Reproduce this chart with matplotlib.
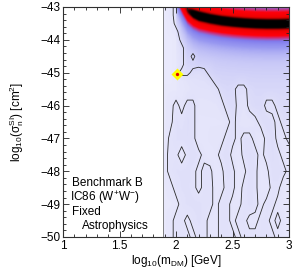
import numpy as np
import matplotlib
matplotlib.use("Agg")
import matplotlib.pyplot as plt
from matplotlib.colors import LinearSegmentedColormap
from matplotlib.ticker import MultipleLocator

plt.rcParams['font.family'] = ['Liberation Sans', 'DejaVu Sans']
plt.rcParams['mathtext.fontset'] = 'custom'
plt.rcParams['mathtext.rm'] = 'Liberation Sans'
plt.rcParams['mathtext.it'] = 'Liberation Sans:italic'
plt.rcParams['mathtext.bf'] = 'Liberation Sans:bold'

# ---------------- data ----------------
mass_min = 1.885
mass_grid = [1.90, 1.95, 2.00, 2.05, 2.10, 2.15, 2.20, 2.25, 2.30, 2.35, 2.40, 2.45,
             2.50, 2.55, 2.60, 2.65, 2.70, 2.75, 2.80, 2.85, 2.90, 2.95, 3.00]
sigma_grid = [-43.0, -43.25, -43.5, -43.75, -44.0, -44.25, -44.5, -44.75, -45.0, -45.25,
              -45.5, -46.0, -46.5, -47.0, -47.5, -48.0, -48.5, -49.0, -49.5, -50.0]
# profile likelihood level (0-9 scale), rows follow sigma_grid (top to bottom)
like_codes = [
    [2, 4, 6, 7, 7, 7, 7, 7, 7, 7, 7, 7, 7, 7, 7, 7, 7, 7, 7, 7, 7, 7, 7],
    [2, 4, 6, 7, 7, 7, 7, 7, 7, 7, 7, 7, 7, 7, 7, 7, 7, 7, 7, 7, 7, 7, 7],
    [2, 3, 6, 7, 7, 7, 7, 7, 7, 7, 7, 7, 7, 7, 7, 7, 7, 7, 7, 7, 7, 7, 7],
    [2, 3, 4, 7, 7, 7, 7, 7, 7, 7, 7, 7, 7, 7, 7, 7, 7, 7, 7, 7, 7, 7, 7],
    [2, 2, 3, 6, 7, 7, 7, 7, 7, 7, 7, 7, 7, 7, 7, 7, 7, 7, 7, 7, 7, 7, 7],
    [2, 2, 3, 4, 7, 7, 7, 7, 7, 7, 7, 7, 7, 7, 7, 7, 7, 7, 7, 7, 7, 7, 7],
    [2, 2, 3, 4, 7, 4, 7, 7, 7, 7, 7, 7, 7, 7, 7, 7, 7, 7, 7, 7, 7, 7, 7],
    [2, 2, 3, 4, 7, 6, 6, 6, 6, 7, 7, 7, 7, 7, 7, 7, 7, 7, 7, 7, 7, 7, 7],
    [2, 2, 4, 6, 6, 4, 3, 4, 6, 7, 7, 7, 7, 7, 7, 7, 7, 7, 7, 7, 7, 7, 7],
    [2, 2, 3, 3, 3, 3, 3, 3, 4, 6, 7, 7, 7, 6, 6, 7, 7, 7, 7, 7, 7, 7, 7],
    [3, 3, 3, 3, 3, 3, 3, 3, 3, 4, 6, 7, 6, 4, 4, 6, 7, 7, 7, 7, 7, 7, 7],
    [3, 4, 6, 4, 6, 6, 3, 3, 3, 3, 4, 6, 7, 4, 3, 6, 7, 7, 4, 4, 6, 7, 7],
    [3, 4, 7, 6, 7, 6, 3, 3, 3, 3, 3, 4, 6, 4, 3, 3, 4, 6, 7, 6, 4, 6, 6],
    [3, 6, 7, 7, 7, 6, 3, 3, 4, 4, 4, 6, 6, 4, 6, 6, 4, 3, 6, 7, 4, 4, 6],
    [4, 6, 6, 3, 6, 7, 6, 4, 3, 4, 6, 7, 4, 3, 6, 7, 6, 4, 6, 7, 6, 4, 3],
    [4, 6, 7, 7, 7, 6, 4, 6, 6, 3, 4, 7, 6, 3, 4, 7, 6, 3, 4, 7, 7, 6, 4],
    [3, 4, 6, 7, 7, 6, 4, 6, 6, 4, 4, 6, 6, 3, 6, 7, 6, 3, 3, 6, 6, 3, 3],
    [3, 3, 4, 6, 7, 7, 7, 6, 6, 4, 6, 6, 4, 4, 6, 7, 6, 4, 6, 6, 4, 3, 3],
    [3, 4, 6, 6, 4, 6, 7, 6, 4, 4, 6, 6, 4, 6, 6, 4, 4, 6, 6, 4, 6, 4, 3],
    [3, 4, 6, 6, 6, 4, 6, 6, 4, 4, 6, 6, 6, 4, 6, 6, 6, 6, 6, 6, 4, 3, 3],
]
contour_level = 5
# high-likelihood band (posterior ridge)
band_mass = [2.00, 2.05, 2.10, 2.15, 2.20, 2.30, 2.40, 2.50, 2.60, 2.70, 2.80, 2.90, 3.00]
band_center = [-42.65, -42.9, -43.1, -43.2, -43.27, -43.35, -43.41, -43.45, -43.48,
               -43.5, -43.51, -43.51, -43.5]
band_peak = [0.3, 0.55, 0.8, 0.95, 1.0, 1.0, 1.0, 1.0, 1.0, 1.0, 1.0, 1.0, 1.0]
band_width = 0.28
best_fit_mass = 2.01
best_fit_sigma = -45.04

x_ticks = [1, 1.5, 2, 2.5, 3]
x_tick_labels = ['1', '1.5', '2', '2.5', '3']
y_ticks = [-50, -49, -48, -47, -46, -45, -44, -43]
y_tick_labels = ['\u221250', '\u221249', '\u221248', '\u221247', '\u221246', '\u221245',
                 '\u221244', '\u221243']
legend_lines = ['Benchmark B', 'IC86 (W$^{+}$W$^{-}$)', 'Fixed', 'Astrophysics']

# ---------------- field for the image ----------------
codes = np.array(like_codes, dtype=float)[::-1]
ys = np.array(sigma_grid)[::-1]
xs = np.array(mass_grid)
xf = np.linspace(mass_min, 3.0, 260)
yf = np.linspace(-50.0, -43.0, 420)
rows = np.array([np.interp(xf, xs, r) for r in codes])
bg = np.array([np.interp(yf, ys, rows[:, j]) for j in range(len(xf))]).T
bg = 0.035 + 0.005 * bg
c = np.interp(xf, band_mass, band_center)
p = np.interp(xf, band_mass, band_peak, left=0.0)
band = p[None, :] / (1.0 + ((yf[:, None] - c[None, :]) / band_width) ** 2)
field = np.clip(bg + band, 0, 1)

stops = [(0.00, (238, 238, 253)), (0.045, (233, 233, 252)), (0.07, (224, 224, 250)),
         (0.12, (200, 200, 247)), (0.20, (152, 152, 241)), (0.29, (128, 122, 236)),
         (0.38, (210, 40, 110)), (0.45, (255, 0, 10)), (0.72, (238, 0, 0)),
         (0.82, (165, 0, 0)), (0.90, (40, 0, 0)), (0.96, (0, 0, 0)), (1.00, (0, 0, 0))]
cmap = LinearSegmentedColormap.from_list(
    'lik', [(s, tuple(v / 255 for v in col)) for s, col in stops])

# ---------------- figure ----------------
fig = plt.figure(figsize=(2.99, 2.68), dpi=100)
ax = fig.add_axes([0.2107, 0.1157, 0.7559, 0.8582])

ax.imshow(field, origin='lower', extent=[mass_min, 3.0, -50, -43], aspect='auto',
          cmap=cmap, vmin=0, vmax=1, interpolation='bilinear', zorder=1)
ax.contour(xs, ys, codes, levels=[contour_level], colors='#2a2a2a', linewidths=0.6,
           zorder=2)
ax.axvline(mass_min, color='#707070', lw=0.6, zorder=2)

ax.plot([best_fit_mass], [best_fit_sigma], marker='D', ms=6, color='#ffff00',
        mec='none', zorder=3)
ax.plot([best_fit_mass], [best_fit_sigma], marker='o', ms=2.4, color='#e00000',
        mec='none', zorder=4)

ax.set_xlim(1, 3)
ax.set_ylim(-50, -43)
ax.set_xticks(x_ticks)
ax.set_xticklabels(x_tick_labels)
ax.set_yticks(y_ticks)
ax.set_yticklabels(y_tick_labels)
ax.xaxis.set_minor_locator(MultipleLocator(0.1))
ax.yaxis.set_minor_locator(MultipleLocator(0.2))
ax.tick_params(which='both', direction='in', top=True, right=True, width=0.6,
               labelsize=8.5, colors='#202020', labelcolor='black')
ax.tick_params(which='major', length=4, pad=2)
ax.tick_params(which='minor', length=2)
for s in ax.spines.values():
    s.set_linewidth(0.8)
    s.set_color('#303030')

ax.set_xlabel('log$_{10}$(m$_{\\mathrm{DM}}$) [GeV]', fontsize=8.5)
ax.set_ylabel('log$_{10}$(\u03c3${}_{\\mathrm{n}}^{\\mathrm{SI}}$) [cm$^{2}$]', fontsize=8.5)
ax.xaxis.set_label_coords(0.5, -0.068)
ax.yaxis.set_label_coords(-0.165, 0.5)

text_x = [1.08, 1.066, 1.08, 1.17]
text_y = [-48.36, -48.81, -49.24, -49.66]
for tx, ty, s in zip(text_x, text_y, legend_lines):
    ax.text(tx, ty, s, fontsize=8.5, va='center', ha='left', zorder=5)

fig.savefig('out.png', dpi=100)
